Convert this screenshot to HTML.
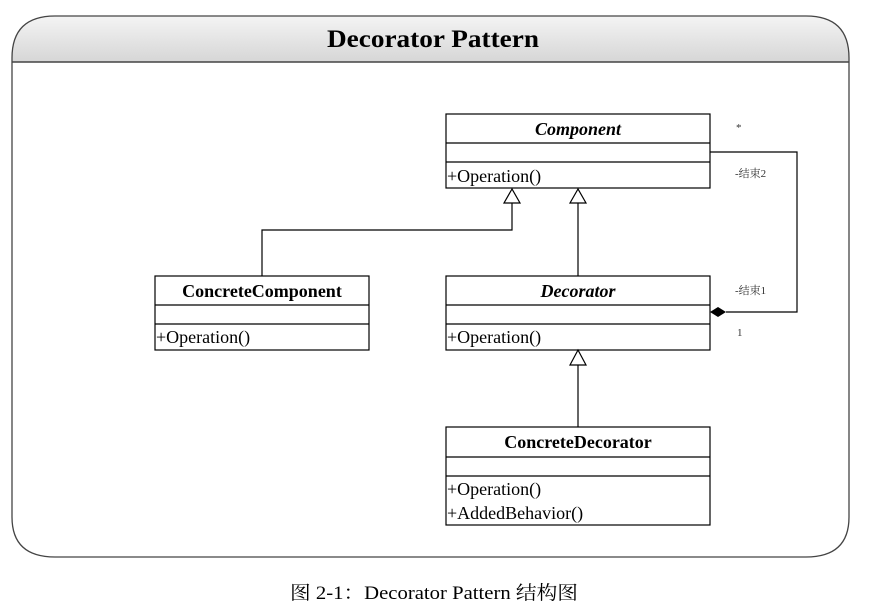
<!DOCTYPE html>
<html><head><meta charset="utf-8"><style>
html,body{margin:0;padding:0;background:#fff;width:875px;height:611px;overflow:hidden}
</style></head><body>
<svg width="875" height="611" xmlns="http://www.w3.org/2000/svg" font-family="'Liberation Serif','Noto Serif CJK SC',serif">
<defs><linearGradient id="g" x1="0" y1="0" x2="0" y2="1"><stop offset="0" stop-color="#f4f4f4"/><stop offset="1" stop-color="#d6d6d6"/></linearGradient></defs>
<path d="M12,62 V58 Q12,16 55,16 H806 Q849,16 849,58 V62 Z" fill="url(#g)"/>
<path d="M12,62 V58 Q12,16 55,16 H806 Q849,16 849,58 V62" fill="none" stroke="#444" stroke-width="1.3"/>
<path d="M12,62 V517 Q12,557 55,557 H806 Q849,557 849,517 V62" fill="none" stroke="#444" stroke-width="1.3"/>
<line x1="12" y1="62" x2="849" y2="62" stroke="#444" stroke-width="1.5"/>
<text x="433" y="47" text-anchor="middle" font-size="25" font-weight="bold" textLength="212" lengthAdjust="spacingAndGlyphs">Decorator Pattern</text>
<g fill="#fff" stroke="#000" stroke-width="1.2">
<rect x="446" y="114" width="264" height="74"/><line x1="446" y1="143" x2="710" y2="143"/><line x1="446" y1="162" x2="710" y2="162"/>
<rect x="155" y="276" width="214" height="74"/><line x1="155" y1="305" x2="369" y2="305"/><line x1="155" y1="324" x2="369" y2="324"/>
<rect x="446" y="276" width="264" height="74"/><line x1="446" y1="305" x2="710" y2="305"/><line x1="446" y1="324" x2="710" y2="324"/>
<rect x="446" y="427" width="264" height="98"/><line x1="446" y1="457" x2="710" y2="457"/><line x1="446" y1="476" x2="710" y2="476"/>
</g>
<g fill="none" stroke="#000" stroke-width="1.2">
<polyline points="262,276 262,230 512,230 512,203"/>
<line x1="578" y1="276" x2="578" y2="203"/>
<line x1="578" y1="427" x2="578" y2="365"/>
<polyline points="710,152 797,152 797,312 726,312"/>
</g>
<g fill="#fff" stroke="#000" stroke-width="1.2">
<polygon points="512,189 504,203 520,203"/>
<polygon points="578,189 570,203 586,203"/>
<polygon points="578,350 570,365 586,365"/>
</g>
<polygon points="710,312 718,307 726,312 718,317" fill="#000"/>
<g font-size="18">
<text x="578" y="135" text-anchor="middle" font-weight="bold" font-style="italic">Component</text>
<text x="447" y="182">+Operation()</text>
<text x="262" y="297" text-anchor="middle" font-weight="bold">ConcreteComponent</text>
<text x="156" y="343">+Operation()</text>
<text x="578" y="297" text-anchor="middle" font-weight="bold" font-style="italic">Decorator</text>
<text x="447" y="343">+Operation()</text>
<text x="578" y="448" text-anchor="middle" font-weight="bold">ConcreteDecorator</text>
<text x="447" y="495">+Operation()</text>
<text x="447" y="519">+AddedBehavior()</text>
</g>
<g font-size="11" fill="#333">
<text x="736" y="131">*</text>
<text x="735" y="177">-结束2</text>
<text x="735" y="294">-结束1</text>
<text x="737" y="336">1</text>
</g>
<text x="290" y="599" font-size="19" font-family="'Liberation Serif','Noto Serif CJK SC',serif" textLength="288" lengthAdjust="spacingAndGlyphs">图 2-1：Decorator Pattern 结构图</text>
</svg>
</body></html>
